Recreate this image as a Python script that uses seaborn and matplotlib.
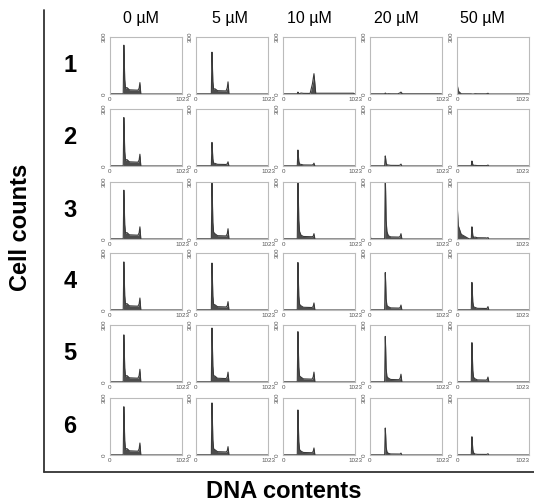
import numpy as np
import matplotlib
matplotlib.use('Agg')
import matplotlib.pyplot as plt
from matplotlib.lines import Line2D
import seaborn as sns

# ── Data ────────────────────────────────────────────────
conc_labels = ['0 µM', '5 µM', '10 µM', '20 µM', '50 µM']
row_labels = ['1', '2', '3', '4', '5', '6']

# peak channels per column (DNA content, 0-1023)
g1_pos = [200, 230, 215, 220, 215]
g2_pos = [425, 455, 440, 440, 440]

# G1 peak height (cell counts), rows x columns
g1_height = [
    [257, 220,  10,   5,   0],
    [255, 124,  84,  53,  26],
    [257, 295, 330, 330,  64],
    [253, 247, 250, 197, 145],
    [248, 284, 265, 240, 207],
    [254, 274, 237, 142,  96],
]
# G2 peak height
g2_height = [
    [60, 64, 107, 10,  4],
    [62, 22,  15, 10,  5],
    [64, 54,  28, 28,  8],
    [63, 44,  37, 26, 18],
    [67, 52,  52, 41, 26],
    [63, 44,  37, 10,  7],
]
# G2 peak half width (channels)
g2_width = [
    [28, 28, 55, 45, 30],
    [28, 28, 28, 28, 28],
    [28, 28, 28, 28, 28],
    [28, 28, 28, 28, 28],
    [28, 28, 28, 28, 28],
    [28, 28, 28, 28, 28],
]
# S-phase plateau level
s_level = [
    [20, 16,  3,  1,  1],
    [20,  8,  5,  3,  2],
    [20, 16, 12, 10,  6],
    [20, 16, 13, 10,  8],
    [20, 18, 15, 12, 10],
    [20, 16, 12,  5,  3],
]
# debris / sub-G1 spike at channel 0 and its reach
sub_height = [
    [ 0,  0, 20,  10, 120],
    [ 0,  0,  5,   5,   5],
    [10,  0, 40, 214, 204],
    [ 5,  5,  5,  10,  10],
    [ 0,  0,  0,   0,   0],
    [ 0,  0,  0,   0,   0],
]
sub_width = [
    [10, 10, 10, 10,  60],
    [10, 10, 10, 10,  10],
    [10, 10, 10, 10, 170],
    [10, 10, 10, 10,  10],
    [10, 10, 10, 10,  10],
    [10, 10, 10, 10,  10],
]
# polyploid tail after the G2 peak
tail_level = [
    [0, 0, 4, 1, 0],
    [0, 0, 0, 0, 0],
    [0, 0, 0, 0, 0],
    [0, 0, 0, 0, 0],
    [0, 0, 0, 0, 0],
    [0, 0, 0, 0, 0],
]


def histogram_outline(r, c):
    g1, g2 = g1_pos[c], g2_pos[c]
    h1, h2, w2 = g1_height[r][c], g2_height[r][c], g2_width[r][c]
    s, sub, sw = s_level[r][c], sub_height[r][c], sub_width[r][c]
    tail = tail_level[r][c]
    xs = [0, sw * 0.1, sw * 0.35, sw, g1 - 12, g1 - 3, g1 + 2, g1 + 9, g1 + 20,
          g1 + 40, g1 + 75, g2 - w2, g2 - w2 * 0.4, g2, g2 + w2 * 0.45,
          g2 + w2 * 1.5, 1000, 1023]
    ys = [sub, sub * 0.35, sub * 0.12, 1, 1, h1, h1 * 0.75, h1 * 0.3, h1 * 0.12,
          s * 1.7, s * 1.1, s, h2 * 0.5, h2, tail, tail, tail, 0]
    return np.array(xs, float), np.array(ys, float)


# ── Figure ──────────────────────────────────────────────
sns.set_style('white')
plt.rcParams['font.family'] = ['Liberation Sans', 'DejaVu Sans']
plt.rcParams['text.color'] = 'black'

W, H = 534, 504
fig = plt.figure(figsize=(W / 100, H / 100), dpi=100)

col_left = [110, 196, 283, 370, 457]
row_top = [37, 109, 182, 253, 325, 398]
pw, ph = 72, 57

for r in range(6):
    for c in range(5):
        ax = fig.add_axes([col_left[c] / W, 1 - (row_top[r] + ph) / H, pw / W, ph / H])
        xs, ys = histogram_outline(r, c)
        ax.fill_between(xs, 0, ys, color='#4d4d4d', lw=0)
        sns.lineplot(x=xs, y=ys, ax=ax, color='#3a3a3a', lw=0.8, sort=False)
        ax.set_xlim(0, 1023)
        ax.set_ylim(0, 300)
        ax.set_xticks([0, 1023])
        xt = ax.set_xticklabels(['0', '1023'])
        if c == 4:
            xt[1].set_ha('right')
        ax.set_xticks(np.arange(128, 1023, 128), minor=True)
        ax.set_yticks([0, 300])
        ax.set_yticklabels(['0', '300'], rotation=90, va='center')
        ax.set_yticks([100, 200], minor=True)
        ax.tick_params(which='both', direction='out', length=1.5, width=0.5,
                       color='#aaaaaa', labelsize=4.5, labelcolor='#555555', pad=1)
        ax.set_xlabel('')
        ax.set_ylabel('')
        for sp in ax.spines.values():
            sp.set_color('#bbbbbb')
            sp.set_linewidth(0.8)

# column titles
title_x = [141, 230, 309, 396, 482]
for lab, x in zip(conc_labels, title_x):
    fig.text(x / W, 1 - 18 / H, lab, ha='center', va='center', fontsize=11.5,
             color='black')

# row labels
for lab, top in zip(row_labels, row_top):
    fig.text(70 / W, 1 - (top + ph / 2) / H, lab, ha='center', va='center',
             fontsize=17, fontweight='bold', color='black')

# outer axes lines
fig.add_artist(Line2D([44 / W, 44 / W], [1 - 10 / H, 1 - 472 / H],
                      color='#333333', lw=1.3, transform=fig.transFigure))
fig.add_artist(Line2D([44 / W, 1.0], [1 - 472 / H, 1 - 472 / H],
                      color='#333333', lw=1.3, transform=fig.transFigure))

fig.text(21 / W, 1 - 227 / H, 'Cell counts', rotation=90, ha='center', va='center',
         fontsize=17, fontweight='bold', color='black')
fig.text(284 / W, 1 - 491 / H, 'DNA contents', ha='center', va='center',
         fontsize=17, fontweight='bold', color='black')

fig.savefig('out.png', dpi=100)
